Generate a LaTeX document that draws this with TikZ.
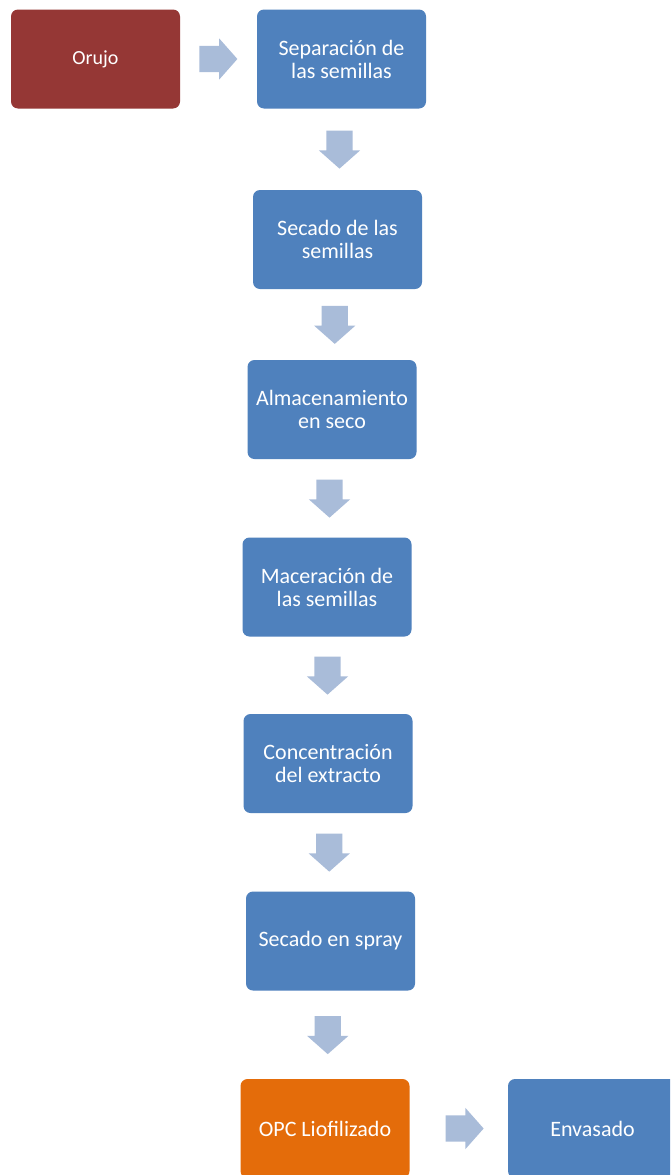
\documentclass[tikz,border=0pt]{standalone}
\usepackage{fontspec}
\setmainfont{Carlito}
\usetikzlibrary{shapes.arrows,calc}
\definecolor{boxblue}{HTML}{4F81BD}
\definecolor{boxred}{HTML}{953735}
\definecolor{boxorange}{HTML}{E46C0A}
\definecolor{arrowgray}{HTML}{A9BCD9}
\tikzset{
  stepbox/.style={rectangle, rounded corners=7pt, minimum width=169pt, minimum height=99pt,
    inner sep=0pt, text=white, align=center, font=\fontsize{22}{23}\selectfont, fill=boxblue},
  blockarrow/.style={single arrow, fill=arrowgray, draw=none, inner sep=13pt,
    minimum height=37pt, minimum width=41pt, single arrow head extend=7.5pt,
    single arrow tip angle=97},
  downarrow/.style={blockarrow, shape border rotate=270, yshift=5.5pt},
}
\begin{document}
\begin{tikzpicture}[x=1pt,y=-1pt]
\path[use as bounding box] (0,0) rectangle (670,1175);
\fill[white] (0,0) rectangle (670,1175);
\begin{scope}
\clip (0,0) rectangle (670,1175);
\node[stepbox, fill=boxred, font=\fontsize{20}{23}\selectfont] (orujo) at (95.5,59) {Orujo};
\node[stepbox] (sep) at (341.5,59) {Separación de\\las semillas};
\node[stepbox] (sec) at (337.5,239.5) {Secado de las\\semillas};
\node[stepbox] (alm) at (332,409.5) {Almacenamiento\\en seco};
\node[stepbox] (mac) at (327,587) {Maceración de\\las semillas};
\node[stepbox] (con) at (328,763.5) {Concentración\\del extracto};
\node[stepbox] (spr) at (330.5,941) {Secado en spray};
\node[stepbox, fill=boxorange] (opc) at (325,1128.5) {OPC Liofilizado};
\node[stepbox] (env) at (592.5,1128.5) {Envasado};

\node[blockarrow, xshift=-6pt] (a0) at ($(orujo.east)!0.5!(sep.west)$) {};
\node[downarrow] (a1) at ($(sep.south)!0.5!(sec.north)$) {};
\node[downarrow] (a2) at ($(sec.south)!0.5!(alm.north)$) {};
\node[downarrow] (a3) at ($(alm.south)!0.5!(mac.north)$) {};
\node[downarrow] (a4) at ($(mac.south)!0.5!(con.north)$) {};
\node[downarrow] (a5) at ($(con.south)!0.5!(spr.north)$) {};
\node[downarrow] (a6) at ($(spr.south)!0.5!(opc.north)$) {};
\node[blockarrow] (a7) at ($(opc.east)!0.5!(env.west)$) {};
\end{scope}
\end{tikzpicture}
\end{document}
